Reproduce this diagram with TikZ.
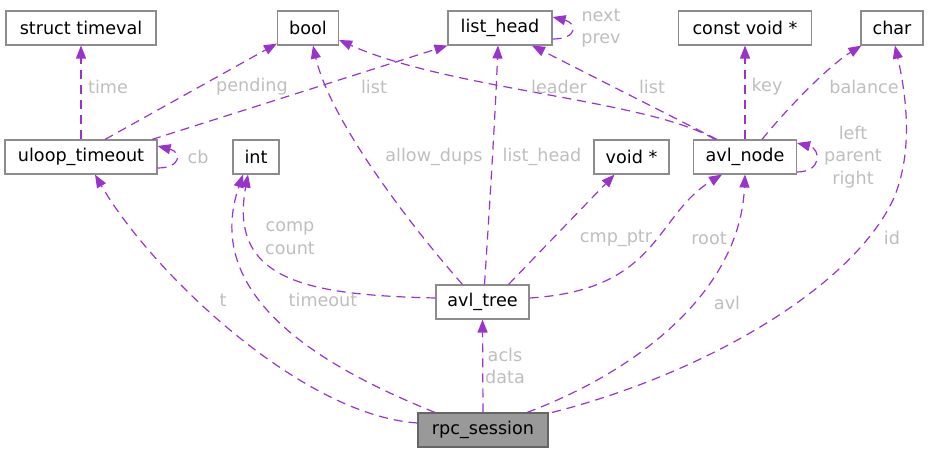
\documentclass[tikz,border=0pt]{standalone}
\usepackage{fontspec}
\setmainfont{DejaVu Sans}
\usetikzlibrary{arrows.meta}
\definecolor{edgec}{HTML}{9A32CD}
\definecolor{lblc}{HTML}{BEBEBE}
\definecolor{boxc}{HTML}{8C8C8C}
\definecolor{mainfill}{HTML}{999999}
\definecolor{mainborder}{HTML}{666666}
\begin{document}
\begin{tikzpicture}[x=1pt,y=-1pt,
  box/.style={draw=boxc, line width=1.1pt, fill=white, minimum height=34pt, inner sep=0pt, font=\fontsize{17.6}{21}\selectfont},
  mainbox/.style={box, draw=mainborder, fill=mainfill},
  edge/.style={draw=edgec, line width=1.2pt, dash pattern=on 9pt off 6pt, -{Triangle[length=13pt,width=10pt,fill=edgec]}},
  lbl/.style={text=lblc, font=\fontsize{17.6}{22.5}\selectfont, align=center, inner sep=0pt}]
\useasboundingbox (0,0) rectangle (929,452);
% nodes
\node[box, minimum width=150pt] (tv) at (81,28) {struct timeval};
\node[box, minimum width=61pt] (bool) at (308,28) {bool};
\node[box, minimum width=104pt] (lh) at (500,28) {list\_head};
\node[box, minimum width=133pt] (cv) at (745,28) {const void *};
\node[box, minimum width=62pt] (ch) at (892,28) {char};
\node[box, minimum width=152pt] (ut) at (81,157) {uloop\_timeout};
\node[box, minimum width=46pt] (int) at (256,157) {int};
\node[box, minimum width=75pt] (vp) at (631.5,157) {void *};
\node[box, minimum width=103pt] (an) at (745,157) {avl\_node};
\node[box, minimum width=93pt] (at) at (482.5,302) {avl\_tree};
\node[mainbox, minimum width=130pt] (rs) at (483,430) {rpc\_session};
% edges
\draw[edge] (ut.north) -- (tv.south);
\draw[edge] ([xshift=24]ut.north) -- ([yshift=2]bool.south west);
\draw[edge] ([xshift=71]ut.north) -- (lh.south west);
\draw[edge] ([yshift=-11]ut.east) .. controls +(24,0) and +(24,6) .. ([yshift=11]ut.east);
\draw[edge] ([yshift=7]rs.west) .. controls (300,415) and (150,270) .. ([xshift=14]ut.south);
\draw[edge] ([xshift=-48]rs.north) .. controls (330,370) and (200,300) .. ([xshift=-13]int.south);
\draw[edge] ([yshift=4]at.west) .. controls (310,295) and (228,282) .. ([xshift=-8]int.south);
\draw[edge] ([xshift=-20]at.north) .. controls (410,225) and (330,120) .. ([xshift=5]bool.south);
\draw[edge] ([xshift=2]at.north) .. controls (490,200) and (495,120) .. ([xshift=-2]lh.south);
\draw[edge] ([xshift=26]at.north) -- ([xshift=-17]vp.south);
\draw[edge] ([yshift=4]at.east) .. controls (660,290) and (655,215) .. ([xshift=-23]an.south);
\draw[edge] ([xshift=-30]an.north) .. controls (650,100) and (450,90) .. ([yshift=-12]bool.east);
\draw[edge] ([xshift=-28]an.north) -- ([xshift=32]lh.south);
\draw[edge] (an.north) -- (cv.south);
\draw[edge] ([xshift=17]an.north) .. controls (790,105) and (830,65) .. ([xshift=1]ch.south west);
\draw[edge] ([yshift=-15]an.east) .. controls +(25,0) and +(24,6) .. ([yshift=14]an.east);
\draw[edge] ([yshift=-11]lh.east) .. controls +(26,0) and +(24,6) .. ([yshift=11]lh.east);
\draw[edge] (rs.north) -- (at.south);
\draw[edge] ([xshift=44]rs.north) .. controls (640,370) and (740,290) .. (an.south);
\draw[edge] ([xshift=69]rs.north) .. controls (700,375) and (850,290) .. (893,200) .. controls (915,150) and (905,90) .. ([xshift=3]ch.south);
% labels
\node[lbl] (l1) at (108,87) {time};
\node[lbl] (l2) at (252,87) {pending};
\node[lbl] (l3) at (374,87) {list};
\node[lbl] (l4) at (198,157) {cb};
\node[lbl] (l5) at (223,300) {t};
\node[lbl] (l6) at (323,300) {timeout};
\node[lbl] (l7) at (290,238) {comp\\count};
\node[lbl] (l8) at (434,157) {allow\_dups};
\node[lbl] (l9) at (542,157) {list\_head};
\node[lbl] (l10) at (616,238) {cmp\_ptr};
\node[lbl] (l11) at (709,238) {root};
\node[lbl] (l12) at (559,87) {leader};
\node[lbl] (l13) at (652,87) {list};
\node[lbl] (l14) at (767,87) {key};
\node[lbl] (l15) at (864,87) {balance};
\node[lbl] (l16) at (853,157) {left\\parent\\right};
\node[lbl] (l17) at (601,28) {next\\prev};
\node[lbl] (l18) at (505,366) {acls\\data};
\node[lbl] (l19) at (727,303) {avl};
\node[lbl] (l20) at (892,238) {id};
\end{tikzpicture}
\end{document}
